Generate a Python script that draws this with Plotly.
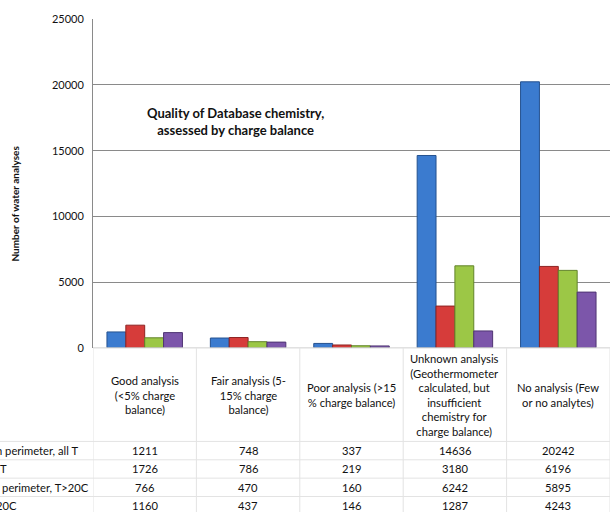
import plotly.graph_objects as go

categories = [
    "Good analysis<br>(<5% charge<br>balance)",
    "Fair analysis (5-<br>15% charge<br>balance)",
    "Poor analysis (>15<br>% charge balance)",
    "Unknown analysis<br>(Geothermometer<br>calculated, but<br>insufficient<br>chemistry for<br>charge balance)",
    "No analysis (Few<br>or no analytes)",
]
series_names = ["n perimeter, all T", "T", "n perimeter, T>20C", "20C"]
series_values = [
    [1211, 748, 337, 14636, 20242],
    [1726, 786, 219, 3180, 6196],
    [766, 470, 160, 6242, 5895],
    [1160, 437, 146, 1287, 4243],
]
colors = ["#3b7bcf", "#d63c3a", "#9cc746", "#7c56aa"]
edge_colors = ["#25528f", "#8e2322", "#62832a", "#4f3573"]
y_ticks = [0, 5000, 10000, 15000, 20000, 25000]
y_title = "Number of water analyses"
chart_title = "Quality of Database chemistry,<br>assessed by charge balance"

W, H = 610, 512
FONT = "Lato"
# observed vertical mapping of the viewer: y_out = 6 + 0.977 * y_page
def py(px):
    return 1 - (px - 6) / (H * 0.977)

fig = go.Figure()
xs = list(range(len(categories)))
for name, vals, c, ec in zip(series_names, series_values, colors, edge_colors):
    fig.add_trace(go.Bar(x=xs, y=vals, name=name, marker=dict(color=c, line=dict(color=ec, width=1))))

plot_top, plot_bot = 18.3, 347.7
left_px = 93
fig.update_layout(
    width=W, height=H,
    margin=dict(l=0, r=0, t=0, b=0),
    paper_bgcolor="white", plot_bgcolor="white",
    showlegend=False,
    barmode="group", bargap=0.27, bargroupgap=0,
    font=dict(family=FONT, size=11, color="#111"),
    xaxis=dict(domain=[left_px / W, 1], range=[-0.5, len(categories) - 0.5],
               showticklabels=False, showgrid=False, zeroline=False, showline=False, fixedrange=True),
    yaxis=dict(domain=[py(plot_bot), py(plot_top)], range=[0, 25000], tickvals=y_ticks, tickformat="d",
               showgrid=True, gridcolor="#8a8a8a", gridwidth=1, zeroline=False,
               showline=True, linecolor="#8a8a8a", linewidth=1, ticks="", ticklabelstandoff=6,
               tickfont=dict(family=FONT, size=11, color="#111")),
)

ann = []
shapes = []
shapes.append(dict(type="line", xref="paper", yref="paper", x0=left_px / W, x1=1, y0=py(plot_bot), y1=py(plot_bot),
                   line=dict(color="#d0d0d0", width=1)))
ann.append(dict(text="<b>" + chart_title + "</b>", xref="paper", yref="paper", x=235 / W, y=py(121),
                xanchor="center", yanchor="middle", showarrow=False, font=dict(family=FONT, size=13, color="#111")))
ann.append(dict(text="<b>" + y_title + "</b>", xref="paper", yref="paper", x=15 / W, y=py(203),
                xanchor="center", yanchor="middle", textangle=-90, showarrow=False,
                font=dict(family=FONT, size=10, color="#111")))

header_bottom = 441.5
row_h = 18.4
for i, cat in enumerate(categories):
    ann.append(dict(text=cat, xref="x", yref="paper", x=i, y=py((plot_bot + header_bottom) / 2),
                    xanchor="center", yanchor="middle", showarrow=False,
                    font=dict(family=FONT, size=11.2, color="#111")))
for i in range(len(categories) + 1):
    shapes.append(dict(type="line", xref="x", yref="paper", x0=i - 0.5, x1=i - 0.5, y0=py(plot_bot), y1=py(530),
                       line=dict(color="#e3e3e3", width=1)))
for r in range(len(series_names)):
    yline = header_bottom + r * row_h
    shapes.append(dict(type="line", xref="paper", yref="paper", x0=0, x1=1, y0=py(yline), y1=py(yline),
                       line=dict(color="#e3e3e3", width=1)))
label_right = [80, 9, 91, 19]
for r, (name, vals) in enumerate(zip(series_names, series_values)):
    yc = header_bottom + r * row_h + row_h / 2
    ann.append(dict(text=name, xref="paper", yref="paper", x=label_right[r] / W, y=py(yc),
                    xanchor="right", yanchor="middle", showarrow=False,
                    font=dict(family=FONT, size=11.2, color="#111")))
    for i, v in enumerate(vals):
        ann.append(dict(text=str(v), xref="x", yref="paper", x=i, y=py(yc),
                        xanchor="center", yanchor="middle", showarrow=False,
                        font=dict(family=FONT, size=11.2, color="#111")))

fig.update_layout(annotations=ann, shapes=shapes)
fig.write_html("out.html", config={"displayModeBar": False},
               post_script="document.documentElement.style.margin='0';document.body.style.margin='0';"
                           "document.body.style.overflow='hidden';")
